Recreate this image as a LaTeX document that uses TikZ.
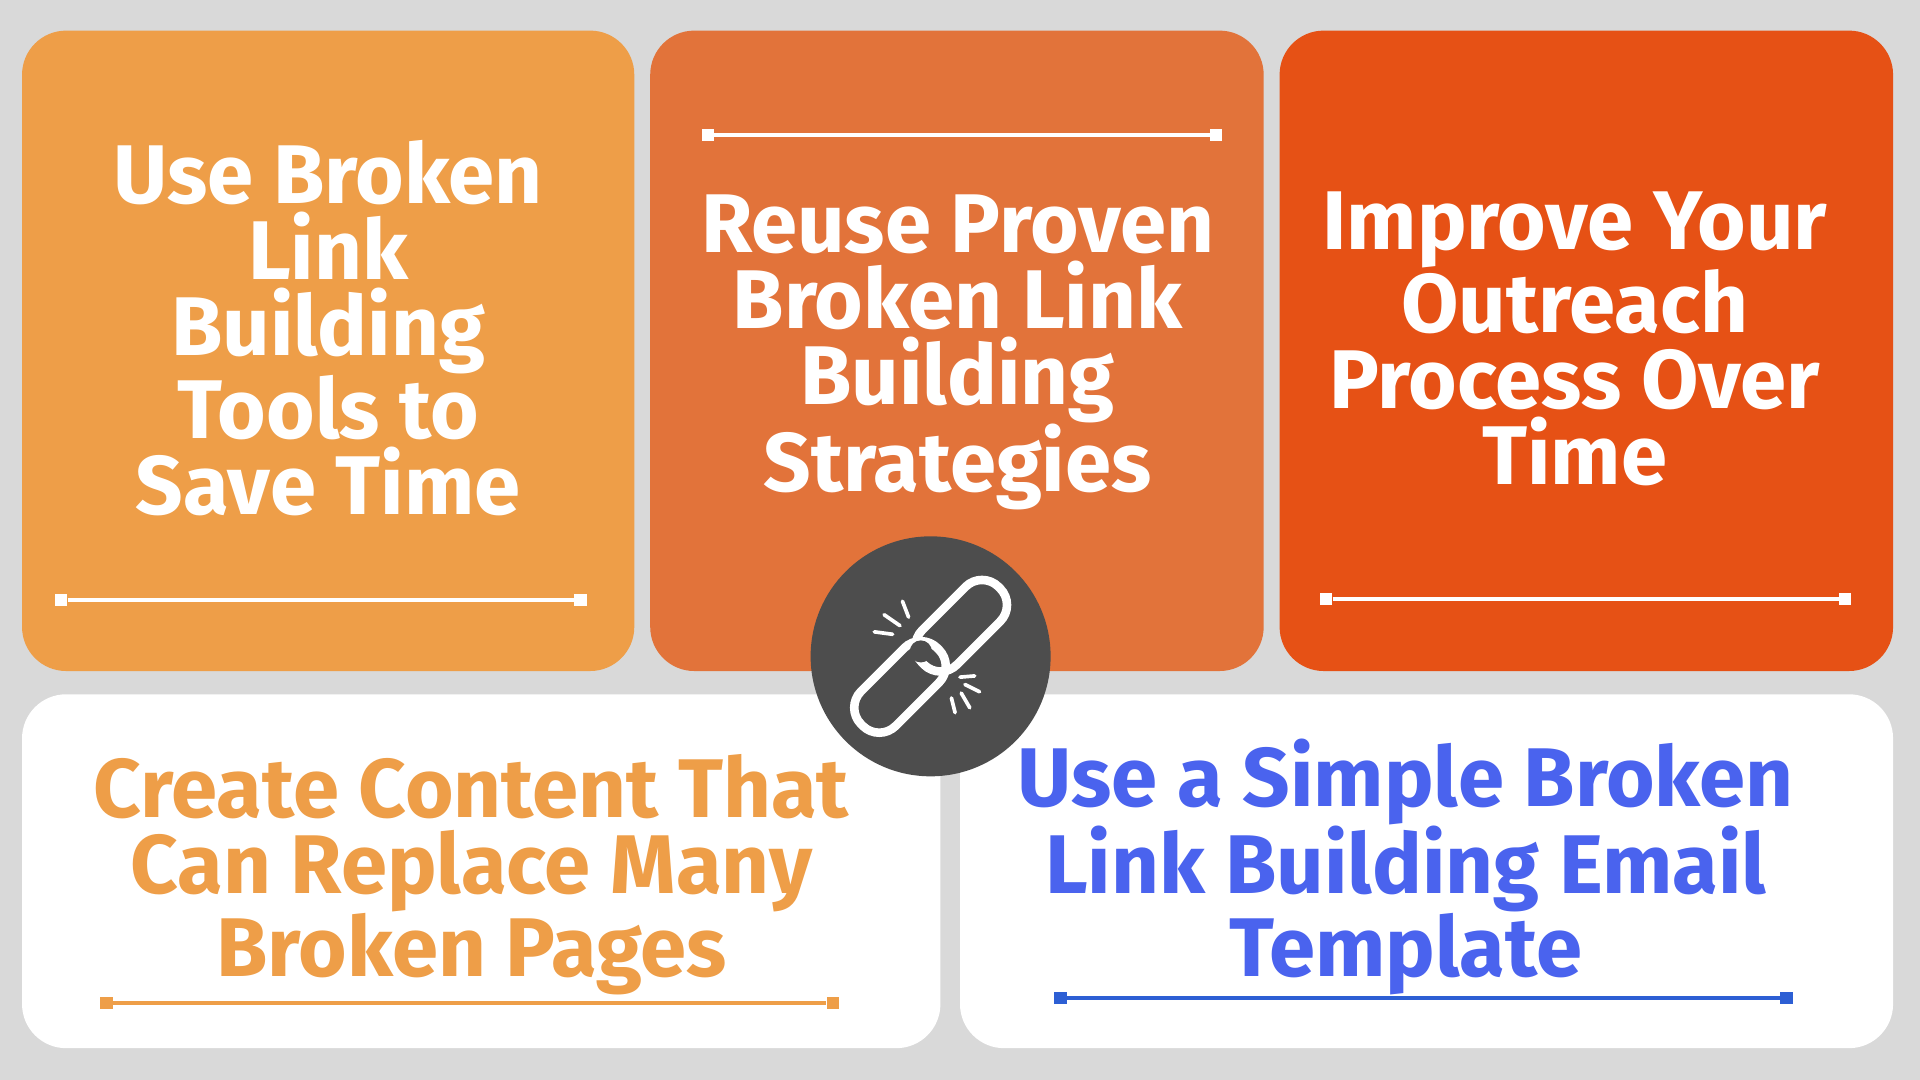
\documentclass[tikz,border=0pt]{standalone}
\usepackage{fontspec}
\setmainfont{Fira Sans}
\definecolor{bg}{HTML}{D9D9D9}
\definecolor{c1}{HTML}{EE9E48}
\definecolor{c2}{HTML}{E2733A}
\definecolor{c3}{HTML}{E65115}
\definecolor{cb}{HTML}{4A63EE}
\definecolor{cbl}{HTML}{2D5FD4}
\definecolor{dk}{HTML}{4D4D4D}
\tikzset{
 card/.style={rounded corners=36pt},
 ttl/.style={align=center, font=\fontsize{68}{62}\selectfont\bfseries, xscale=1.0, inner sep=0},
 bar/.style={line width=3pt},
 endsq/.style={minimum size=10pt, inner sep=0},
}
\begin{document}
\begin{tikzpicture}[x=1pt,y=-1pt]
\useasboundingbox (0,0) rectangle (1568,882);
\fill[bg] (0,0) rectangle (1568,882);
\fill[c1,card] (18,25) rectangle (518,548);
\fill[c2,card] (531,25) rectangle (1032,548);
\fill[c3,card] (1045,25) rectangle (1546,548);
\fill[white,card] (18,567) rectangle (768,856);
\fill[white,card] (784,567) rectangle (1546,856);
% bars
\node[endsq,fill=white] (a1) at (50,490) {}; \node[endsq,fill=white] (a2) at (474,490) {};
\draw[bar,white] (a1) -- (a2);
\node[endsq,fill=white] (b1) at (578,110) {}; \node[endsq,fill=white] (b2) at (993,110) {};
\draw[bar,white] (b1) -- (b2);
\node[endsq,fill=white] (d1) at (1083,489) {}; \node[endsq,fill=white] (d2) at (1507,489) {};
\draw[bar,white] (d1) -- (d2);
\node[endsq,fill=c1] (e1) at (87,819) {}; \node[endsq,fill=c1] (e2) at (680,819) {};
\draw[bar,c1] (e1) -- (e2);
\node[endsq,fill=cbl] (f1) at (866,815) {}; \node[endsq,fill=cbl] (f2) at (1459,815) {};
\draw[bar,cbl] (f1) -- (f2);
% texts
\node[ttl,white] (t1) at (268,268) {Use Broken\\Link\\Building\\Tools to\\Save Time};
\node[ttl,white] (t2) at (782,288) {Reuse Proven\\Broken Link\\Building\\Strategies};
\node[ttl,white] (t3) at (1286,277) {Improve Your\\Outreach\\Process Over\\Time};
\node[ttl,c1] (t4) at (385,714) {Create Content That\\Can Replace Many\\Broken Pages};
\node[ttl,cb] (t5) at (1148,708) {Use a Simple Broken\\Link Building Email\\Template};
% circle icon
\node[circle,fill=dk,minimum size=196pt,inner sep=0] (ic) at (760,536) {};
\node[draw=white,line width=7pt,rounded corners=19pt,minimum width=88pt,minimum height=40pt,rotate=45] (p1) at (735,561) {};
\node[draw=white,line width=7pt,rounded corners=19pt,minimum width=88pt,minimum height=40pt,rotate=45] (p2) at (785,511) {};
\fill[dk] (752,532) circle (9pt);
\draw[white,line width=3pt,line cap=round] (737,491)--(742,504) (722,502)--(735,511) (714,516)--(729,518)
 (796,552)--(784,553) (800,565)--(788,559) (792,578)--(785,566) (780,582)--(777,570);
\end{tikzpicture}
\end{document}
